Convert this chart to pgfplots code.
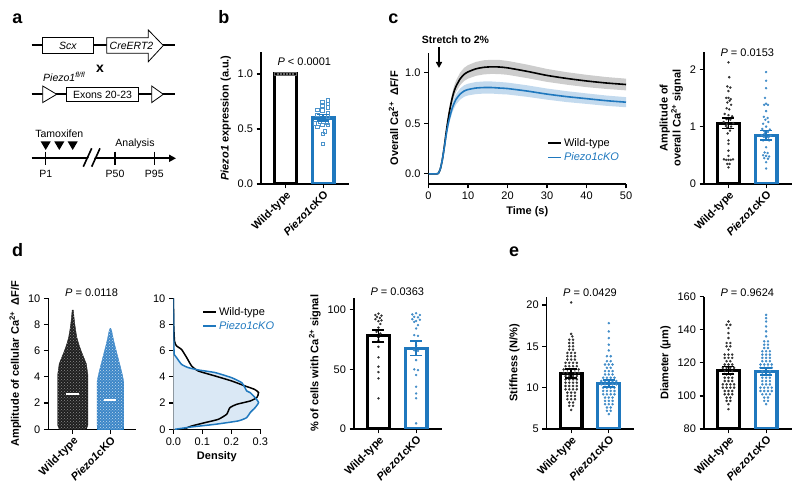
\documentclass[border=0pt]{standalone}
\usepackage{fontspec}
\setmainfont{Liberation Sans}
\usepackage{pgfplots}
\pgfplotsset{compat=1.18}
\usetikzlibrary{arrows.meta,patterns}
\definecolor{kob}{RGB}{31,120,190}
\definecolor{kolight}{RGB}{218,232,245}
\definecolor{wtband}{RGB}{205,205,205}
\definecolor{koband}{RGB}{195,218,238}
\definecolor{koswarm}{RGB}{60,135,200}
\newcommand{\fs}{\fontsize{11}{13}\selectfont}
\pgfplotsset{
  gp/.style={
    scale only axis,
    axis x line*=bottom, axis y line*=left,
    axis line style={line width=1.2pt},
    every tick/.style={black, line width=1.2pt},
    major tick length=4.5pt,
    tick align=outside,
    tick label style={font=\fs},
    label style={font=\bfseries\fs},
    /pgf/number format/assume math mode=true,
    clip mode=individual,
  },
  barax/.style={gp, width=87.7pt, xmin=-0.65, xmax=1.68, xtick={0,1},
    xticklabels={Wild-type,\textit{Piezo1}cKO},
    xticklabel style={rotate=45, anchor=north east, font=\bfseries\fs, inner sep=1pt},
  },
  wtbar/.style={ybar, bar shift=0pt, bar width=0.58, draw=black, fill=white, line width=3.2pt},
  kobar/.style={ybar, bar shift=0pt, bar width=0.58, draw=kob, fill=white, line width=3.2pt},
  wterr/.style={draw=none, mark=none, error bars/.cd, y dir=both, y explicit,
     error bar style={draw=black, line width=1.6pt},
     error mark options={rotate=90, mark size=6pt, line width=1.6pt, draw=black}},
  koerr/.style={draw=none, mark=none, error bars/.cd, y dir=both, y explicit,
     error bar style={draw=kob, line width=1.6pt},
     error mark options={rotate=90, mark size=6pt, line width=1.6pt, draw=kob}},
  wtdot/.style={only marks, mark=*, mark size=1pt, black!80},
  kodot/.style={only marks, mark=*, mark size=1pt, kob!85},
}
\begin{document}
\begin{tikzpicture}
\path[use as bounding box] (0,0) rectangle (800pt,492pt);

% ---------------- panel a (schematic) and panel letters ----------------
\begin{scope}[x=1pt,y=-1pt,yshift=492pt, font=\fontsize{10.5}{12}\selectfont]
 \node[anchor=base, font=\bfseries\fontsize{18}{18}\selectfont] at (17.5,24) {a};
 \node[anchor=base, font=\bfseries\fontsize{18}{18}\selectfont] at (223.8,24) {b};
 \node[anchor=base, font=\bfseries\fontsize{18}{18}\selectfont] at (393.3,24) {c};
 \node[anchor=base, font=\bfseries\fontsize{18}{18}\selectfont] at (17.5,257) {d};
 \node[anchor=base, font=\bfseries\fontsize{18}{18}\selectfont] at (514,257) {e};
 \draw[line width=1.8pt] (31.7,45) -- (175,45);
 \draw[line width=0.8pt, fill=white] (42.7,37.7) rectangle (93.3,53.3);
 \node at (68,45.5) {\textit{Scx}};
 \draw[line width=0.8pt, fill=white] (106.7,37.7) -- (148.3,37.7) -- (148.3,30) -- (163.3,45.5) -- (148.3,61.7) -- (148.3,53.3) -- (106.7,53.3) -- cycle;
 \node at (131.5,45.5) {\textit{CreERT2}};
 \node[font=\bfseries\fontsize{14}{14}\selectfont] at (100,69) {x};
 \node[anchor=west, inner sep=0pt] at (43,76.5) {\textit{Piezo1}\textsuperscript{\textit{fl/fl}}};
 \draw[line width=1.8pt] (31.7,94.3) -- (175,94.3);
 \draw[line width=0.8pt, fill=white] (42.7,86) -- (56.7,94.3) -- (42.7,102.6) -- cycle;
 \draw[line width=0.8pt, fill=white] (151.7,86) -- (163.3,94.3) -- (151.7,102.6) -- cycle;
 \draw[line width=0.8pt, fill=white] (66.7,87.3) rectangle (138.3,101.7);
 \node at (102.5,94.5) {Exons 20-23};
 \draw[line width=1.8pt, -{Triangle[length=7pt,width=7pt]}] (31.7,158.3) -- (176,158.3);
 \fill[white] (84.5,166.7) -- (92.8,148.3) -- (98.8,148.3) -- (90.5,166.7) -- cycle;
 \draw[line width=1.6pt] (83.3,166.7) -- (91.7,148.3);
 \draw[line width=1.6pt] (91.7,166.7) -- (100,148.3);
 \draw[line width=1.2pt] (45.7,151.7) -- (45.7,165);
 \draw[line width=1.2pt] (115,151.7) -- (115,165);
 \draw[line width=1.2pt] (154.3,151.7) -- (154.3,165);
 \fill (40.7,141.5) -- (50.7,141.5) -- (45.7,150) -- cycle;
 \fill (54.3,141.5) -- (64.3,141.5) -- (59.3,150) -- cycle;
 \fill (67.7,141.5) -- (77.7,141.5) -- (72.7,150) -- cycle;
 \node at (59.3,134) {Tamoxifen};
 \node at (135,143.5) {Analysis};
 \node at (45.7,174) {P1};
 \node at (115,174) {P50};
 \node at (154.3,174) {P95};
 \node[font=\bfseries\fontsize{10.5}{12}\selectfont] at (455.5,39.5) {Stretch to 2\%};
 \draw[line width=1.6pt, -{Triangle[length=6pt,width=6pt]}] (439,47) -- (439,68);
\end{scope}

% ---------------- panel b ----------------
\begin{axis}[barax, at={(261pt,308pt)}, anchor=south west, height=132pt,
  ymin=0, ymax=1.2, ytick={0,0.5,1},
  yticklabel style={/pgf/number format/.cd,fixed,fixed zerofill,precision=1},
  ylabel={\textit{Piezo1} expression (a.u.)}]
\addplot[wtbar] coordinates {(0,1.0)};
\addplot[kobar] coordinates {(1,0.60)};
\addplot[only marks, mark=square, mark size=1.7pt, black!60, line width=0.7pt] coordinates {
(-0.24,1)(-0.16,1)(-0.08,1)(0,1)(0.08,1)(0.16,1)(0.24,1)};
\addplot[only marks, mark=square, mark size=1.7pt, kob!80, line width=0.7pt] coordinates {
(1.13,0.76)(0.98,0.745)(1.13,0.73)(0.98,0.71)(1.13,0.695)(0.85,0.675)(0.98,0.67)(1.13,0.645)(0.85,0.63)(1.13,0.615)
(0.78,0.55)(0.92,0.565)(1.1,0.56)(1.13,0.535)(0.98,0.535)(0.85,0.52)(1.05,0.48)(1.0,0.455)(1.0,0.365)};
\addplot[koerr] coordinates {(1,0.60) +- (0,0.03)};
\node[font=\fs] at (axis cs:0.5,1.11) {\textit{P} < 0.0001};
\end{axis}

% ---------------- panel c left ----------------
\begin{axis}[gp, at={(428.5pt,308pt)}, anchor=south west, width=197.5pt, height=131.3pt,
  xmin=0, xmax=50, ymin=-0.1, ymax=1.2, xtick={0,10,20,30,40,50}, ytick={0,0.5,1},
  yticklabel style={/pgf/number format/.cd,fixed,fixed zerofill,precision=1},
  xlabel={Time (s)}, ylabel={Overall Ca\textsuperscript{2+}\ \ ΔF/F},
  legend style={at={(rel axis cs:0.6,0.365)}, anchor=north west, draw=none, fill=none, font=\fs, inner sep=0pt, row sep=1pt,
    /tikz/every even column/.append style={column sep=5pt}},
  legend cell align=left,
  legend image code/.code={\draw[#1, line width=1.8pt] (0pt,0pt) -- (13pt,0pt);}]
\addplot[fill=wtband, draw=none, forget plot] coordinates {
(0,0)(2,0)(2.5,0.005)(3,0.053)(3.5,0.149)(4,0.288)(4.5,0.448)(5,0.586)(5.5,0.704)(6,0.80)(6.5,0.874)(7,0.927)(8,1.002)(9,1.05)(10,1.077)(12,1.109)(14,1.125)(16,1.13)(18,1.128)(20,1.119)(25,1.082)(30,1.039)(35,1.007)(40,0.981)(45,0.959)(50,0.943)
(50,0.827)(45,0.841)(40,0.859)(35,0.883)(30,0.911)(25,0.948)(20,0.981)(18,0.988)(16,0.99)(14,0.985)(12,0.971)(10,0.943)(9,0.92)(8,0.878)(7,0.813)(6.5,0.766)(6,0.70)(5.5,0.616)(5,0.514)(4.5,0.392)(4,0.252)(3.5,0.131)(3,0.047)(2.5,0.005)} -- cycle;
\addplot[fill=koband, draw=none, forget plot] coordinates {
(0,0)(2,0)(2.5,0.005)(3,0.054)(3.5,0.15)(4,0.278)(4.5,0.417)(5,0.535)(5.5,0.621)(6,0.696)(6.5,0.749)(7,0.792)(8,0.845)(9,0.877)(10,0.893)(12,0.91)(14,0.915)(16,0.915)(18,0.91)(20,0.904)(25,0.877)(30,0.845)(35,0.819)(40,0.797)(45,0.776)(50,0.76)
(50,0.66)(45,0.674)(40,0.693)(35,0.711)(30,0.735)(25,0.763)(20,0.786)(18,0.79)(16,0.795)(14,0.795)(12,0.79)(10,0.777)(9,0.763)(8,0.735)(7,0.688)(6.5,0.651)(6,0.605)(5.5,0.539)(5,0.465)(4.5,0.363)(4,0.242)(3.5,0.13)(3,0.047)(2.5,0.005)} -- cycle;
\addplot[black, line width=1.6pt, smooth, tension=0.4] coordinates {
(0,0)(2,0)(2.5,0.005)(3,0.05)(3.5,0.14)(4,0.27)(4.5,0.42)(5,0.55)(5.5,0.66)(6,0.75)(6.5,0.82)(7,0.87)(8,0.94)(9,0.985)(10,1.01)(12,1.04)(14,1.055)(16,1.06)(18,1.058)(20,1.05)(25,1.015)(30,0.975)(35,0.945)(40,0.92)(45,0.9)(50,0.885)};
\addlegendentry{Wild-type}
\addplot[kob, line width=1.6pt, smooth, tension=0.4] coordinates {
(0,0)(2,0)(2.5,0.005)(3,0.05)(3.5,0.14)(4,0.26)(4.5,0.39)(5,0.50)(5.5,0.58)(6,0.65)(6.5,0.70)(7,0.74)(8,0.79)(9,0.82)(10,0.835)(12,0.85)(14,0.855)(16,0.855)(18,0.85)(20,0.845)(25,0.82)(30,0.79)(35,0.765)(40,0.745)(45,0.725)(50,0.71)};
\addlegendentry{\textcolor{kob}{\textit{Piezo1cKO}}}
\end{axis}

% ---------------- panel c right ----------------
\begin{axis}[barax, at={(704pt,308pt)}, anchor=south west, height=132pt,
  ymin=0, ymax=2.3, ytick={0,1,2},
  ylabel={Amplitude of\\overall Ca\textsuperscript{2+} signal}, ylabel style={align=center}]
\addplot[wtbar] coordinates {(0,1.06)};
\addplot[kobar] coordinates {(1,0.85)};
\addplot[wtdot] coordinates {
(0.0,2.12)(0.02,1.86)(-0.03,1.70)(0.05,1.68)(0.0,1.62)(-0.06,1.50)(0.0,1.50)(0.06,1.48)(0.03,1.45)(-0.03,1.42)
(0.07,1.38)(-0.05,1.32)(0.02,1.30)(-0.1,1.22)(0.0,1.2)(0.1,1.18)(-0.05,1.13)(0.05,1.12)(-0.13,1.08)(-0.04,1.04)
(0.13,1.06)(-0.07,1.01)(0.07,1.0)(-0.03,0.98)(0.04,0.93)(-0.02,0.88)(0.0,0.76)(0.0,0.70)(0.0,0.58)(0.0,0.49)
(-0.12,0.43)(-0.06,0.42)(0.0,0.42)(0.06,0.42)(0.12,0.43)(-0.03,0.35)(0.03,0.35)(0.0,0.29)};
\addplot[kodot] coordinates {
(1,1.95)(1,1.80)(1,1.67)(0.97,1.50)(1.0,1.40)(0.95,1.38)(1.05,1.38)(1.0,1.27)(0.94,1.17)(1.04,1.15)
(0.98,1.12)(1.06,1.08)(0.92,1.05)(1.0,1.0)(0.9,0.96)(1.1,0.95)(0.95,0.92)(1.05,0.91)(0.96,0.88)(0.88,0.85)
(1.12,0.84)(0.94,0.82)(1.06,0.81)(1.0,0.78)(0.92,0.76)(1.08,0.76)(1.0,0.64)(0.96,0.55)(1.04,0.54)(0.92,0.50)
(1.0,0.49)(1.08,0.48)(0.95,0.45)(1.05,0.44)(1.0,0.38)(1.0,0.27)};
\addplot[wterr] coordinates {(0,1.06) +- (0,0.09)};
\addplot[koerr] coordinates {(1,0.85) +- (0,0.08)};
\node[font=\fs] at (axis cs:0.5,2.29) {\textit{P} = 0.0153};
\end{axis}

% ---------------- panel d left ----------------
\begin{axis}[barax, at={(48.3pt,62.7pt)}, anchor=south west, height=131pt,
  ymin=0, ymax=10, ytick={0,2,4,6,8,10},
  ylabel={Amplitude of cellular Ca\textsuperscript{2+}\ \ ΔF/F}]
\addplot[wtbar, bar width=0.66, fill=none] coordinates {(0,2.69)};
\addplot[kobar, bar width=0.64, fill=none] coordinates {(1,2.24)};
\addplot[fill=black!88, draw=black!88, line width=0.4pt] coordinates {
(0.36,0)(0.40,0.3)(0.40,4.2)(0.36,5.0)(0.29,5.5)(0.22,6.0)(0.16,6.5)(0.11,7.0)(0.08,7.5)(0.055,8.0)(0.035,8.5)(0.015,9.1)
(-0.015,9.1)(-0.035,8.5)(-0.055,8.0)(-0.08,7.5)(-0.11,7.0)(-0.16,6.5)(-0.22,6.0)(-0.29,5.5)(-0.36,5.0)(-0.40,4.2)(-0.40,0.3)(-0.36,0)} -- cycle;
\addplot[pattern=crosshatch dots, pattern color=black!45, draw=none] coordinates {
(0.36,0)(0.40,0.3)(0.40,4.2)(0.36,5.0)(0.29,5.5)(0.22,6.0)(0.16,6.5)(0.11,7.0)(0.08,7.5)(0.055,8.0)(0.035,8.5)(0.015,9.1)
(-0.015,9.1)(-0.035,8.5)(-0.055,8.0)(-0.08,7.5)(-0.11,7.0)(-0.16,6.5)(-0.22,6.0)(-0.29,5.5)(-0.36,5.0)(-0.40,4.2)(-0.40,0.3)(-0.36,0)} -- cycle;
\addplot[fill=koswarm, draw=koswarm, line width=0.4pt] coordinates {
(1.32,0)(1.355,0.3)(1.355,3.6)(1.33,4.0)(1.29,4.5)(1.245,5.0)(1.2,5.5)(1.155,6.0)(1.11,6.5)(1.07,7.0)(1.035,7.5)(1.01,7.7)
(0.99,7.7)(0.965,7.5)(0.93,7.0)(0.89,6.5)(0.845,6.0)(0.8,5.5)(0.755,5.0)(0.71,4.5)(0.67,4.0)(0.645,3.6)(0.645,0.3)(0.68,0)} -- cycle;
\addplot[pattern=crosshatch dots, pattern color=white!70!koswarm, draw=none] coordinates {
(1.32,0)(1.355,0.3)(1.355,3.6)(1.33,4.0)(1.29,4.5)(1.245,5.0)(1.2,5.5)(1.155,6.0)(1.11,6.5)(1.07,7.0)(1.035,7.5)(1.01,7.7)
(0.99,7.7)(0.965,7.5)(0.93,7.0)(0.89,6.5)(0.845,6.0)(0.8,5.5)(0.755,5.0)(0.71,4.5)(0.67,4.0)(0.645,3.6)(0.645,0.3)(0.68,0)} -- cycle;
\addplot[white, line width=1.6pt] coordinates {(-0.17,2.69)(0.17,2.69)};
\addplot[white, line width=1.6pt] coordinates {(0.84,2.24)(1.16,2.24)};
\node[font=\fs] at (axis cs:0.5,10.45) {\textit{P} = 0.0118};
\end{axis}

% ---------------- panel d middle (density) ----------------
\begin{axis}[gp, at={(173.4pt,62.7pt)}, anchor=south west, width=86.9pt, height=131pt,
  xmin=0, xmax=0.3, ymin=0, ymax=10, xtick={0,0.1,0.2,0.3}, ytick={0,2,4,6,8,10},
  xticklabel style={/pgf/number format/.cd,fixed,fixed zerofill,precision=1},
  xlabel={Density},
  legend style={at={(rel axis cs:0.33,0.95)}, anchor=north west, draw=none, fill=none, font=\fs, inner sep=0pt, row sep=1pt,
    /tikz/every even column/.append style={column sep=5pt}},
  legend cell align=left,
  legend image code/.code={\draw[#1, line width=1.8pt] (0pt,0pt) -- (13pt,0pt);}]
\addplot[fill=kolight, draw=none, forget plot] coordinates {
(0,0)(0.005,0)(0.063,0.18)(0.144,0.38)(0.224,0.64)(0.253,0.89)(0.265,1.27)(0.282,1.65)(0.294,2.04)(0.282,2.42)(0.265,2.80)(0.253,2.93)(0.247,3.18)(0.236,3.56)(0.201,3.94)(0.144,4.33)(0.086,4.53)(0.051,4.71)(0.028,4.96)(0.011,5.47)(0.003,5.7)(0.001,7)(0,10)} -- cycle;
\addplot[black, line width=1.5pt, smooth, tension=0.3] coordinates {
(0.034,0)(0.063,0.25)(0.109,0.51)(0.155,0.76)(0.184,1.15)(0.195,1.65)(0.219,1.91)(0.265,2.16)(0.288,2.42)(0.294,2.80)(0.280,3.05)(0.247,3.31)(0.201,3.69)(0.144,4.07)(0.086,4.45)(0.063,4.83)(0.046,5.47)(0.028,6.1)(0.011,6.36)(0.004,6.7)(0.001,8)(0,10)};
\addlegendentry{Wild-type}
\addplot[kob, line width=1.5pt, smooth, tension=0.3] coordinates {
(0.005,0)(0.063,0.18)(0.144,0.38)(0.224,0.64)(0.253,0.89)(0.265,1.27)(0.282,1.65)(0.294,2.04)(0.282,2.42)(0.265,2.80)(0.253,2.93)(0.247,3.18)(0.236,3.56)(0.201,3.94)(0.144,4.33)(0.086,4.53)(0.051,4.71)(0.028,4.96)(0.011,5.47)(0.003,5.7)(0.001,7)(0,10)};
\addlegendentry{\textcolor{kob}{\textit{Piezo1cKO}}}
\end{axis}

% ---------------- panel d right ----------------
\begin{axis}[barax, at={(354pt,63pt)}, anchor=south west, height=131.3pt,
  ymin=0, ymax=110, ytick={0,50,100},
  ylabel={\% of cells with Ca\textsuperscript{2+} signal}]
\addplot[wtbar] coordinates {(0,78)};
\addplot[kobar] coordinates {(1,67.5)};
\addplot[wtdot] coordinates {
(0,96.7)(-0.08,95.5)(0.08,95)(-0.04,93.9)(0.04,93)(-0.08,92)(0.08,91)(0,90.3)(0.05,88)(0,85)
(-0.05,81.4)(0.05,80)(0,76.7)(0,74.4)(0,68.9)(0,60)(0,52.2)(0,47.7)(0,42.4)(0,25.7)};
\addplot[kodot] coordinates {
(1,97)(0.9,96)(1.1,95.5)(0.95,94)(1.05,93.5)(0.9,92)(1.1,91.5)(1,90.5)(0.95,89.8)(1.05,87)
(1,84.2)(0.95,78.7)(1.05,78)(1,73.2)(1,70.2)(0.95,66)(1.05,65.5)(1,57.7)(0.95,50)(1.05,49.3)
(1,45.2)(1,35.4)(1,29.8)(1,25.7)(1,4.7)};
\addplot[wterr] coordinates {(0,78) +- (0,5)};
\addplot[koerr] coordinates {(1,67.5) +- (0,6)};
\node[font=\fs] at (axis cs:0.5,115) {\textit{P} = 0.0363};
\end{axis}

% ---------------- panel e left ----------------
\begin{axis}[barax, at={(546.7pt,63pt)}, anchor=south west, height=132.3pt,
  ymin=5, ymax=21, ytick={5,10,15,20},
  ylabel={Stiffness (N/\%)}]
\addplot[wtbar] coordinates {(0,11.7)};
\addplot[kobar] coordinates {(1,10.5)};
\addplot[wtdot, mark size=1.05pt] coordinates {
(0,20.3)(0,16.5)(0.03,16.2)(-0.05,15.8)(0.05,15.8)(-0.05,15.4)(0.05,15.4)(-0.05,15.0)(0.05,15.0)(-0.05,14.6)(0.05,14.6)
(-0.1,14.2)(0,14.2)(0.1,14.2)(-0.1,13.8)(0,13.8)(0.1,13.8)(-0.1,13.4)(0,13.4)(0.1,13.4)
(-0.15,13.0)(-0.05,13.0)(0.05,13.0)(0.15,13.0)(-0.15,12.6)(-0.05,12.6)(0.05,12.6)(0.15,12.6)
(-0.2,12.2)(-0.1,12.2)(0,12.2)(0.1,12.2)(0.2,12.2)(-0.2,11.8)(-0.1,11.8)(0,11.8)(0.1,11.8)(0.2,11.8)
(-0.15,11.4)(-0.05,11.4)(0.05,11.4)(0.15,11.4)(-0.15,11.0)(-0.05,11.0)(0.05,11.0)(0.15,11.0)
(-0.15,10.6)(-0.05,10.6)(0.05,10.6)(0.15,10.6)(-0.15,10.2)(-0.05,10.2)(0.05,10.2)(0.15,10.2)
(-0.15,9.8)(-0.05,9.8)(0.05,9.8)(0.15,9.8)(-0.1,9.4)(0,9.4)(0.1,9.4)(-0.1,9.0)(0,9.0)(0.1,9.0)
(-0.1,8.6)(0,8.6)(0.1,8.6)(-0.05,8.2)(0.05,8.2)(-0.05,7.8)(0.05,7.8)(0,7.3)};
\addplot[kodot, mark size=1.05pt] coordinates {
(1,17.8)(1,16.8)(1,16.0)(1,15.2)(1,14.5)(0.95,13.8)(1.05,13.8)(0.95,13.2)(1.05,13.2)
(0.9,12.8)(1,12.8)(1.1,12.8)(0.95,12.4)(1.05,12.4)(0.9,12.0)(1,12.0)(1.1,12.0)(0.9,11.6)(1,11.6)(1.1,11.6)
(0.85,11.2)(0.95,11.2)(1.05,11.2)(1.15,11.2)(0.8,10.8)(0.9,10.8)(1,10.8)(1.1,10.8)(1.2,10.8)
(0.8,10.4)(0.9,10.4)(1,10.4)(1.1,10.4)(1.2,10.4)(0.85,10.0)(0.95,10.0)(1.05,10.0)(1.15,10.0)
(0.85,9.6)(0.95,9.6)(1.05,9.6)(1.15,9.6)(0.85,9.2)(0.95,9.2)(1.05,9.2)(1.15,9.2)
(0.9,8.8)(1,8.8)(1.1,8.8)(0.9,8.4)(1,8.4)(1.1,8.4)(0.9,8.0)(1,8.0)(1.1,8.0)
(0.95,7.6)(1.05,7.6)(0.95,7.2)(1.05,7.2)(1,6.8)};
\addplot[wterr] coordinates {(0,11.7) +- (0,0.55)};
\addplot[koerr] coordinates {(1,10.5) +- (0,0.45)};
\node[font=\fs] at (axis cs:0.5,21.5) {\textit{P} = 0.0429};
\end{axis}

% ---------------- panel e right ----------------
\begin{axis}[barax, at={(704pt,63pt)}, anchor=south west, height=132.3pt,
  ymin=80, ymax=160, ytick={80,100,120,140,160},
  ylabel={Diameter (μm)}]
\addplot[wtbar] coordinates {(0,115.6)};
\addplot[kobar] coordinates {(1,114.8)};
\addplot[wtdot, mark size=1.05pt] coordinates {
(0,145)(-0.05,143)(0.05,143)(0,141)(0,138)(0,135)(-0.05,132)(0.05,132)(-0.05,130)(0.05,130)(0,128)
(-0.1,125)(0,125)(0.1,125)(-0.1,123)(0,123)(0.1,123)(-0.05,121)(0.05,121)(-0.1,119)(0,119)(0.1,119)
(-0.15,117)(-0.05,117)(0.05,117)(0.15,117)(-0.1,115)(0,115)(0.1,115)(-0.05,113)(0.05,113)
(-0.1,111)(0,111)(0.1,111)(-0.1,109)(0,109)(0.1,109)(-0.15,107)(-0.05,107)(0.05,107)(0.15,107)
(-0.15,105)(-0.05,105)(0.05,105)(0.15,105)(-0.1,103)(0,103)(0.1,103)(-0.1,101)(0,101)(0.1,101)
(-0.05,99)(0.05,99)(-0.05,97)(0.05,97)(0,95)(0,92)};
\addplot[kodot, mark size=1.05pt] coordinates {
(1,149)(1,147)(1,145)(1,142)(1,139)(1,136)(0.95,133)(1.05,133)(0.95,131)(1.05,131)(0.95,129)(1.05,129)
(0.9,127)(1,127)(1.1,127)(0.9,125)(1,125)(1.1,125)(0.9,123)(1,123)(1.1,123)(0.9,121)(1,121)(1.1,121)
(0.85,119)(0.95,119)(1.05,119)(1.15,119)(0.85,117)(0.95,117)(1.05,117)(1.15,117)
(0.9,115)(1,115)(1.1,115)(0.9,113)(1,113)(1.1,113)(0.9,111)(1,111)(1.1,111)(0.9,109)(1,109)(1.1,109)
(0.9,107)(1,107)(1.1,107)(0.85,105)(0.95,105)(1.05,105)(1.15,105)(0.85,103)(0.95,103)(1.05,103)(1.15,103)
(0.9,101)(1,101)(1.1,101)(0.95,99)(1.05,99)(0.95,97)(1.05,97)(1,95)};
\addplot[wterr] coordinates {(0,115.6) +- (0,2.2)};
\addplot[koerr] coordinates {(1,114.8) +- (0,2.2)};
\node[font=\fs] at (axis cs:0.5,162.4) {\textit{P} = 0.9624};
\end{axis}
\end{tikzpicture}
\end{document}
